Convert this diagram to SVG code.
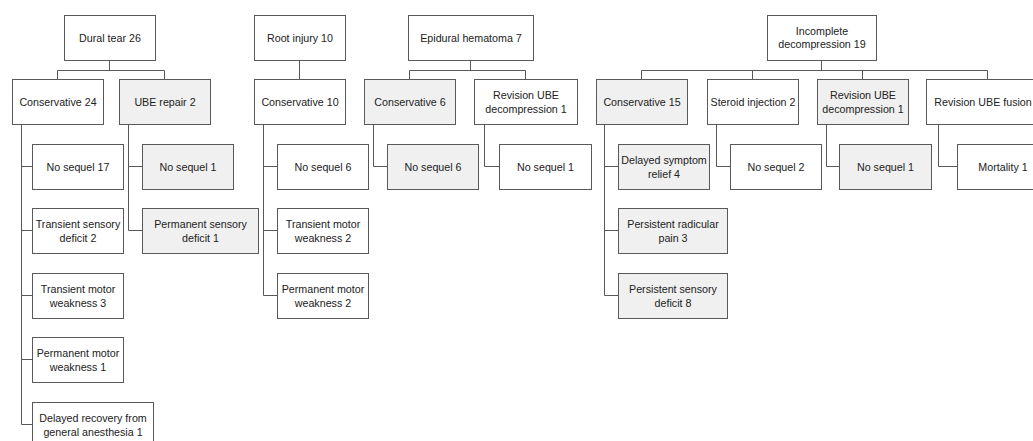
<svg xmlns="http://www.w3.org/2000/svg" width="1033" height="441" viewBox="0 0 1033 441">
<style>
.b{fill:#ffffff;stroke:#595959;stroke-width:1}
.g{fill:#f0f0f0;stroke:#595959;stroke-width:1}
text{font-family:"Liberation Sans",Arial,sans-serif;font-size:10.7px;fill:#222222;text-anchor:middle}
.c{fill:none;stroke:#595959;stroke-width:1}
</style>
<rect width="1033" height="441" fill="#ffffff"/>
<g id="connectors">
<path class="c" d="M109.5,60.5 V70.5 M57.5,79.5 V70.5 H164.5 V79.5"/>
<path class="c" d="M299.5,60.5 V79.5"/>
<path class="c" d="M470.5,60.5 V70.5 M409.5,79.5 V70.5 H525.5 V79.5"/>
<path class="c" d="M821.5,60.5 V70.5 M641.5,79.5 V70.5 H987.5 V79.5 M752.5,70.5 V79.5 M862.5,70.5 V79.5"/>
<path class="c" d="M21.5,124.5 V424.5 H32.5 M21.5,166.5 H32.5 M21.5,230.5 H32.5 M21.5,295.5 H32.5 M21.5,359.5 H32.5"/>
<path class="c" d="M128.5,124.5 V230.5 H142.5 M128.5,166.5 H142.5"/>
<path class="c" d="M263.5,124.5 V295.5 H277.5 M263.5,166.5 H277.5 M263.5,230.5 H277.5"/>
<path class="c" d="M373.5,124.5 V166.5 H387.5"/>
<path class="c" d="M484.5,124.5 V166.5 H499.5"/>
<path class="c" d="M604.5,124.5 V295.5 H618.5 M604.5,166.5 H618.5 M604.5,230.5 H618.5"/>
<path class="c" d="M716.5,124.5 V166.5 H730.5"/>
<path class="c" d="M826.5,124.5 V166.5 H839.5"/>
<path class="c" d="M938.5,124.5 V166.5 H957.5"/>
</g>
<g id="dural-tear"><rect class="b" x="64.5" y="15.5" width="91" height="45"/><text x="110" y="41.5">Dural tear 26</text></g>
<g id="root-injury"><rect class="b" x="254.5" y="15.5" width="91" height="45"/><text x="300" y="41.5">Root injury 10</text></g>
<g id="epidural-hematoma"><rect class="b" x="408.5" y="15.5" width="125" height="45"/><text x="471" y="41.5">Epidural hematoma 7</text></g>
<g id="incomplete-decompression"><rect class="b" x="767.5" y="15.5" width="109" height="45"/><text x="822" y="34.5">Incomplete</text><text x="822" y="48">decompression 19</text></g>

<g id="conservative-24"><rect class="b" x="12.5" y="79.5" width="91" height="45"/><text x="58" y="106">Conservative 24</text></g>
<g id="ube-repair-2"><rect class="g" x="119.5" y="79.5" width="91" height="45"/><text x="165" y="106">UBE repair 2</text></g>
<g id="conservative-10"><rect class="b" x="254.5" y="79.5" width="91" height="45"/><text x="300" y="106">Conservative 10</text></g>
<g id="conservative-6"><rect class="g" x="364.5" y="79.5" width="91" height="45"/><text x="410" y="106">Conservative 6</text></g>
<g id="revision-ube-decompression-a"><rect class="b" x="474.5" y="79.5" width="103" height="45"/><text x="526" y="99">Revision UBE</text><text x="526" y="112.5">decompression 1</text></g>
<g id="conservative-15"><rect class="g" x="596.5" y="79.5" width="91" height="45"/><text x="642" y="106">Conservative 15</text></g>
<g id="steroid-injection-2"><rect class="b" x="707.5" y="79.5" width="91" height="45"/><text x="753" y="106">Steroid injection 2</text></g>
<g id="revision-ube-decompression-b"><rect class="g" x="817.5" y="79.5" width="91" height="45"/><text x="863" y="99">Revision UBE</text><text x="863" y="112.5">decompression 1</text></g>
<g id="revision-ube-fusion"><rect class="b" x="926.5" y="79.5" width="122" height="45"/><text x="987.5" y="106">Revision UBE fusion 1</text></g>

<g id="no-sequel-17"><rect class="b" x="32.5" y="144.5" width="91" height="45"/><text x="78" y="171">No sequel 17</text></g>
<g id="transient-sensory-deficit-2"><rect class="b" x="32.5" y="208.5" width="91" height="45"/><text x="78" y="228">Transient sensory</text><text x="78" y="242">deficit 2</text></g>
<g id="transient-motor-weakness-3"><rect class="b" x="32.5" y="273.5" width="91" height="45"/><text x="78" y="293">Transient motor</text><text x="78" y="306.5">weakness 3</text></g>
<g id="permanent-motor-weakness-1"><rect class="b" x="32.5" y="337.5" width="91" height="45"/><text x="78" y="357">Permanent motor</text><text x="78" y="370.5">weakness 1</text></g>
<g id="delayed-recovery"><rect class="b" x="32.5" y="402.5" width="121" height="45"/><text x="93" y="422">Delayed recovery from</text><text x="93" y="435.5">general anesthesia 1</text></g>

<g id="no-sequel-1-a"><rect class="g" x="142.5" y="144.5" width="91" height="45"/><text x="188" y="171">No sequel 1</text></g>
<g id="permanent-sensory-deficit-1"><rect class="g" x="142.5" y="208.5" width="116" height="45"/><text x="200.5" y="228">Permanent sensory</text><text x="200.5" y="242">deficit 1</text></g>

<g id="no-sequel-6-a"><rect class="b" x="277.5" y="144.5" width="91" height="45"/><text x="323" y="171">No sequel 6</text></g>
<g id="transient-motor-weakness-2"><rect class="b" x="277.5" y="208.5" width="91" height="45"/><text x="323" y="228">Transient motor</text><text x="323" y="242">weakness 2</text></g>
<g id="permanent-motor-weakness-2"><rect class="b" x="277.5" y="273.5" width="91" height="45"/><text x="323" y="293">Permanent motor</text><text x="323" y="306.5">weakness 2</text></g>

<g id="no-sequel-6-b"><rect class="g" x="387.5" y="144.5" width="91" height="45"/><text x="433" y="171">No sequel 6</text></g>
<g id="no-sequel-1-b"><rect class="b" x="499.5" y="144.5" width="92" height="45"/><text x="545.5" y="171">No sequel 1</text></g>

<g id="delayed-symptom-relief-4"><rect class="g" x="618.5" y="144.5" width="91" height="45"/><text x="664" y="164">Delayed symptom</text><text x="664" y="177.5">relief 4</text></g>
<g id="persistent-radicular-pain-3"><rect class="g" x="618.5" y="208.5" width="109" height="45"/><text x="673" y="228">Persistent radicular</text><text x="673" y="242">pain 3</text></g>
<g id="persistent-sensory-deficit-8"><rect class="g" x="618.5" y="273.5" width="109" height="45"/><text x="673" y="293">Persistent sensory</text><text x="673" y="306.5">deficit 8</text></g>

<g id="no-sequel-2"><rect class="b" x="730.5" y="144.5" width="91" height="45"/><text x="776" y="171">No sequel 2</text></g>
<g id="no-sequel-1-c"><rect class="g" x="839.5" y="144.5" width="92" height="45"/><text x="885.5" y="171">No sequel 1</text></g>
<g id="mortality-1"><rect class="b" x="957.5" y="144.5" width="91" height="45"/><text x="1003" y="171">Mortality 1</text></g>
</svg>
